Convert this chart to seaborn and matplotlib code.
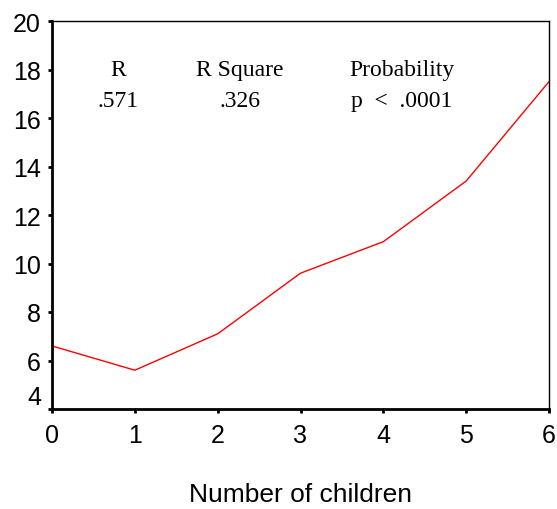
import pandas as pd
import matplotlib
matplotlib.use('Agg')
import matplotlib.pyplot as plt
import seaborn as sns

children = [0, 1, 2, 3, 4, 5, 6]
score = [6.6, 5.6, 7.1, 9.6, 10.9, 13.4, 17.5]
stat_names = ['R', 'R Square', 'Probability']
stat_values = ['.571', '.326', 'p  <  .0001']
stat_x = [0.8, 2.27, 4.22]

sns.set_style('white')
plt.rcParams['font.family'] = ['Liberation Sans', 'DejaVu Sans']
plt.rcParams['text.color'] = 'black'
plt.rcParams['axes.labelcolor'] = 'black'

df = pd.DataFrame({'children': children, 'score': score})

fig = plt.figure(figsize=(5.57, 5.10), dpi=100)
ax = fig.add_axes([52 / 557, 100 / 510, 497 / 557, 388 / 510])
sns.lineplot(data=df, x='children', y='score', color='red', linewidth=1, ax=ax)

ax.set_xlim(0, 6)
ax.set_ylim(4, 20)
ax.set_xticks(range(0, 7))
ax.set_yticks(range(4, 21, 2))
ax.tick_params(axis='both', direction='out', length=3, width=2, labelsize=18,
               colors='black', pad=5, bottom=True, left=True)
ax.tick_params(axis='x', pad=7)
ax.set_xlabel('Number of children', fontsize=19, labelpad=25)
ax.set_ylabel('')
ax.get_yticklabels()[0].set_va('bottom')

for side in ['left', 'bottom']:
    ax.spines[side].set_linewidth(2)
for side in ['top', 'right']:
    ax.spines[side].set_linewidth(1)
for s in ax.spines.values():
    s.set_color('black')

for x, name, val in zip(stat_x, stat_names, stat_values):
    ax.text(x, 17.77, name, ha='center', va='baseline', fontsize=17,
            family='Liberation Serif')
    ax.text(x, 16.5, val, ha='center', va='baseline', fontsize=17,
            family='Liberation Serif')

fig.savefig('out.png', dpi=100)
